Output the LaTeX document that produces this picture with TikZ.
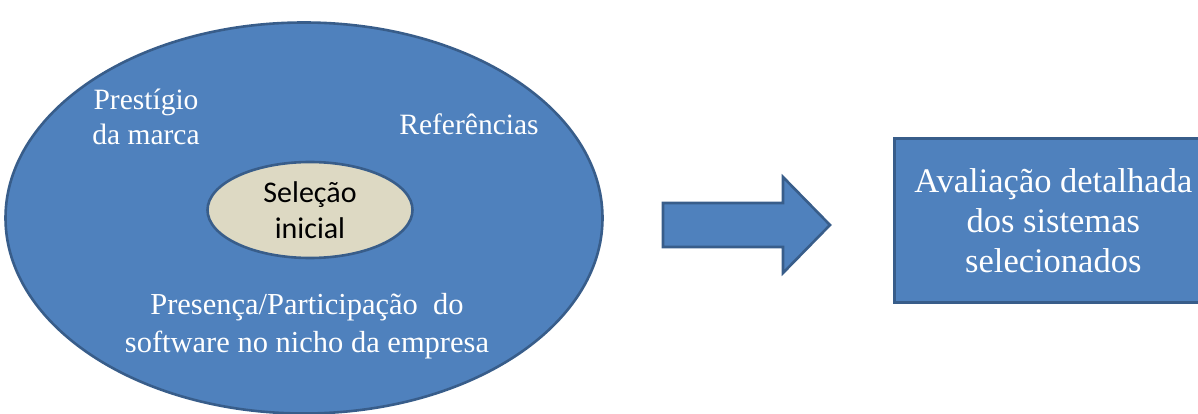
\documentclass[tikz,border=0pt]{standalone}
\usepackage{fontspec}
\setmainfont{Liberation Serif}
\newfontfamily\calibrifont{Carlito}
\usetikzlibrary{shapes.geometric}
\definecolor{officeblue}{HTML}{4F81BD}
\definecolor{officeedge}{HTML}{385D8A}
\definecolor{innerfill}{HTML}{DDD9C3}
\begin{document}
\begin{tikzpicture}[x=1pt,y=-1pt,
  blueshape/.style={draw=officeedge, line width=2.6pt, fill=officeblue, line join=miter},
  whitelabel/.style={text=white, align=center, inner sep=0pt,
    font=\fontsize{29.5}{35}\selectfont},
  boxlabel/.style={text=white, align=center, inner sep=0pt,
    font=\fontsize{34.5}{40}\selectfont},
]
\useasboundingbox (0,0) rectangle (1198,414);

% outer ellipse with the selection criteria
\node[ellipse, blueshape, minimum width=597pt, minimum height=391pt, inner sep=0pt]
  (outer) at (304,218) {};

% inner ellipse
\node[ellipse, draw=officeedge, line width=2.6pt, fill=innerfill,
  minimum width=205pt, minimum height=96pt, inner sep=0pt, align=center,
  font=\calibrifont\fontsize{30}{35.5}\selectfont] (inner) at (310,210)
  {Seleção\\inicial};

% criteria labels
\node[whitelabel] (prestigio) at (146,117) {Prestígio\\da marca};
\node[whitelabel, anchor=base] (referencias) at (469,135) {Referências};
\node[whitelabel, font=\fontsize{30.5}{38}\selectfont] (presenca) at (307,326)
  {Presença/Participação\ \ do\\software no nicho da empresa};

% block arrow
\coordinate (arrowtail) at (663,225);
\coordinate (arrowtip) at (830,225);
\draw[blueshape] (663,203) -- (783,203) -- (783,177) -- (arrowtip)
  -- (783,273) -- (783,247) -- (663,247) -- cycle;

% result box
\node[rectangle, blueshape, minimum width=318pt, minimum height=164pt,
  inner sep=0pt, anchor=north west] (result) at (893,137) {};
\node[boxlabel] (resulttext) at (result.center)
  {Avaliação detalhada\\dos sistemas\\selecionados};
\end{tikzpicture}
\end{document}
